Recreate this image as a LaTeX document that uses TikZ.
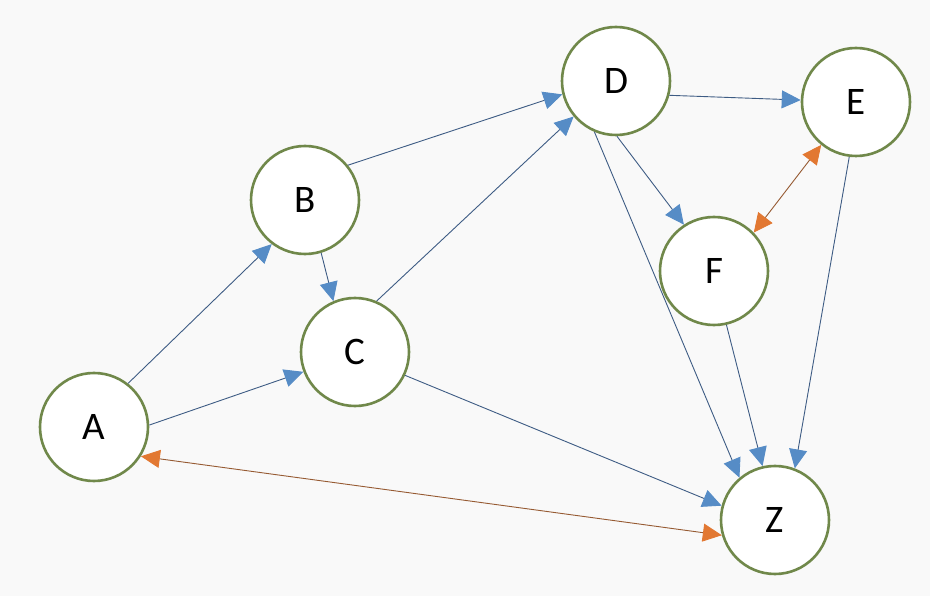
\documentclass[tikz,border=0pt]{standalone}
\usepackage{fontspec}
\setmainfont{Carlito}
\usetikzlibrary{arrows.meta}
\definecolor{ringgreen}{RGB}{112,136,74}
\definecolor{edgeblue}{RGB}{62,92,132}
\definecolor{tipblue}{RGB}{86,140,198}
\definecolor{edgeorange}{RGB}{150,90,50}
\definecolor{tiporange}{RGB}{226,120,50}
\definecolor{paper}{RGB}{249,249,249}
\begin{document}
\begin{tikzpicture}[x=1pt,y=-1pt,
	vertex/.style={circle,draw=ringgreen,line width=2.6pt,fill=white,minimum size=108pt,inner sep=0pt,font=\fontsize{39}{40}\selectfont},
	link/.style={draw=edgeblue,line width=0.9pt,-{Triangle[length=19pt,width=18pt,color=tipblue]}},
	twoway/.style={draw=edgeorange,line width=0.9pt,{Triangle[length=19pt,width=18pt,color=tiporange]}-{Triangle[length=19pt,width=18pt,color=tiporange]}}]
	\fill[paper] (0,0) rectangle (930,596);
	\useasboundingbox (0,0) rectangle (930,596);
	\node[vertex] (A) at (94,427) {A};
	\node[vertex] (B) at (305,200) {B};
	\node[vertex] (C) at (355,352) {C};
	\node[vertex] (D) at (616,81) {D};
	\node[vertex] (E) at (856,102) {E};
	\node[vertex] (F) at (714,271) {F};
	\node[vertex] (Z) at (775,520) {Z};
	\foreach \s / \a / \t / \b in {A/52/B/233,A/2/C/201,B/287/C/113,B/39/D/194,C/67/D/220,C/335/Z/165,D/345/E/178,D/271/F/123,D/247/Z/130,E/263/Z/69,F/283/Z/103} \draw[link] (\s.\a) -- (\t.\b);
	\foreach \s / \a / \t / \b in {A/328/Z/196,F/44/E/231} \draw[twoway] (\s.\a) -- (\t.\b);
\end{tikzpicture}
\end{document}
